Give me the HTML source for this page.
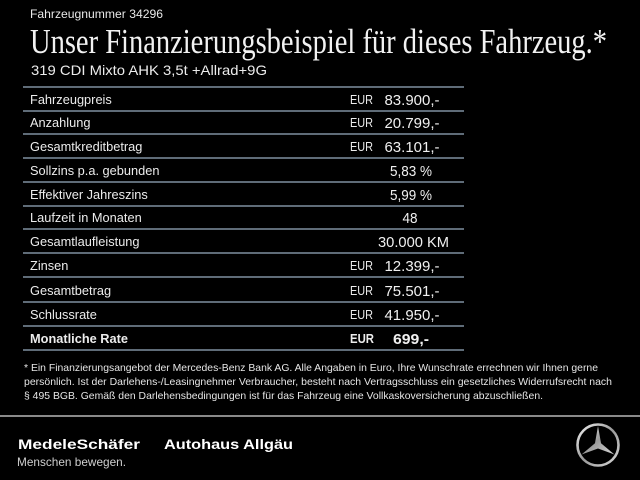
<!DOCTYPE html>
<html>
<head>
<meta charset="utf-8">
<style>
  html,body{margin:0;padding:0;background:#000;}
  svg{display:block;}
  .lbl{font-family:"Liberation Sans",sans-serif;font-size:12.8px;fill:#ececec;}
  .eur{font-family:"Liberation Sans",sans-serif;font-size:12.5px;fill:#ececec;}
  .val{font-family:"Liberation Sans",sans-serif;font-size:15px;fill:#f0f0f0;}
  .b{font-weight:bold;}
  .fn{font-family:"Liberation Sans",sans-serif;font-size:10.5px;fill:#e6e6e6;}
</style>
</head>
<body>
<svg width="640" height="480" viewBox="0 0 640 480" xmlns="http://www.w3.org/2000/svg">
  <defs>
    <linearGradient id="silver" x1="0" y1="0" x2="1" y2="1">
      <stop offset="0" stop-color="#f0f0f0"/>
      <stop offset="0.5" stop-color="#9a9a9a"/>
      <stop offset="1" stop-color="#d8d8d8"/>
    </linearGradient>
  </defs>
  <rect width="640" height="480" fill="#000"/>

  <!-- Header -->
  <text x="30" y="18" font-family="Liberation Sans, sans-serif" font-size="12px" fill="#e8e8e8" textLength="133" lengthAdjust="spacingAndGlyphs">Fahrzeugnummer 34296</text>
  <text x="30" y="53" font-family="Liberation Serif, serif" font-size="35px" fill="#f2f2f2" textLength="577" lengthAdjust="spacingAndGlyphs">Unser Finanzierungsbeispiel für dieses Fahrzeug.*</text>
  <text x="31" y="75" font-family="Liberation Sans, sans-serif" font-size="14px" fill="#ececec" textLength="236" lengthAdjust="spacingAndGlyphs">319 CDI Mixto AHK 3,5t +Allrad+9G</text>

  <!-- Table lines -->
  <g stroke="#7f8fa0" stroke-width="1.5">
    <line x1="23" y1="87" x2="464" y2="87"/>
    <line x1="23" y1="111" x2="464" y2="111"/>
    <line x1="23" y1="134" x2="464" y2="134"/>
    <line x1="23" y1="158" x2="464" y2="158"/>
    <line x1="23" y1="182" x2="464" y2="182"/>
    <line x1="23" y1="206" x2="464" y2="206"/>
    <line x1="23" y1="229" x2="464" y2="229"/>
    <line x1="23" y1="253" x2="464" y2="253"/>
    <line x1="23" y1="277" x2="464" y2="277"/>
    <line x1="23" y1="302" x2="464" y2="302"/>
    <line x1="23" y1="326" x2="464" y2="326"/>
    <line x1="23" y1="350" x2="464" y2="350"/>
  </g>

  <!-- Rows -->
  <text class="lbl" x="30" y="104">Fahrzeugpreis</text>
  <text class="eur" x="350" y="104" textLength="23" lengthAdjust="spacingAndGlyphs">EUR</text>
  <text class="val" x="412" y="105" text-anchor="middle">83.900,-</text>

  <text class="lbl" x="30" y="127">Anzahlung</text>
  <text class="eur" x="350" y="127" textLength="23" lengthAdjust="spacingAndGlyphs">EUR</text>
  <text class="val" x="412" y="128" text-anchor="middle">20.799,-</text>

  <text class="lbl" x="30" y="151">Gesamtkreditbetrag</text>
  <text class="eur" x="350" y="151" textLength="23" lengthAdjust="spacingAndGlyphs">EUR</text>
  <text class="val" x="412" y="152" text-anchor="middle">63.101,-</text>

  <text class="lbl" x="30" y="175">Sollzins p.a. gebunden</text>
  <text class="val" x="411" y="176" text-anchor="middle" textLength="42" lengthAdjust="spacingAndGlyphs">5,83 %</text>

  <text class="lbl" x="30" y="199">Effektiver Jahreszins</text>
  <text class="val" x="411" y="200" text-anchor="middle" textLength="42" lengthAdjust="spacingAndGlyphs">5,99 %</text>

  <text class="lbl" x="30" y="222">Laufzeit in Monaten</text>
  <text class="val" x="410" y="223" text-anchor="middle" textLength="15" lengthAdjust="spacingAndGlyphs">48</text>

  <text class="lbl" x="30" y="246">Gesamtlaufleistung</text>
  <text class="val" x="413.5" y="247" text-anchor="middle" textLength="71" lengthAdjust="spacingAndGlyphs">30.000 KM</text>

  <text class="lbl" x="30" y="270">Zinsen</text>
  <text class="eur" x="350" y="270" textLength="23" lengthAdjust="spacingAndGlyphs">EUR</text>
  <text class="val" x="412" y="271" text-anchor="middle">12.399,-</text>

  <text class="lbl" x="30" y="295">Gesamtbetrag</text>
  <text class="eur" x="350" y="295" textLength="23" lengthAdjust="spacingAndGlyphs">EUR</text>
  <text class="val" x="412" y="296" text-anchor="middle">75.501,-</text>

  <text class="lbl" x="30" y="319">Schlussrate</text>
  <text class="eur" x="350" y="319" textLength="23" lengthAdjust="spacingAndGlyphs">EUR</text>
  <text class="val" x="412" y="320" text-anchor="middle">41.950,-</text>

  <text class="lbl b" x="30" y="343" textLength="98" lengthAdjust="spacingAndGlyphs">Monatliche Rate</text>
  <text class="eur b" x="350" y="343" textLength="24" lengthAdjust="spacingAndGlyphs">EUR</text>
  <text class="val b" x="411" y="344" text-anchor="middle" textLength="36" lengthAdjust="spacingAndGlyphs">699,-</text>

  <!-- Footnote -->
  <text class="fn" x="24" y="371" textLength="574" lengthAdjust="spacingAndGlyphs">* Ein Finanzierungsangebot der Mercedes-Benz Bank AG. Alle Angaben in Euro, Ihre Wunschrate errechnen wir Ihnen gerne</text>
  <text class="fn" x="24" y="385" textLength="588" lengthAdjust="spacingAndGlyphs">persönlich. Ist der Darlehens-/Leasingnehmer Verbraucher, besteht nach Vertragsschluss ein gesetzliches Widerrufsrecht nach</text>
  <text class="fn" x="24" y="399" textLength="519" lengthAdjust="spacingAndGlyphs">§ 495 BGB. Gemäß den Darlehensbedingungen ist für das Fahrzeug eine Vollkaskoversicherung abzuschließen.</text>

  <!-- Footer separator -->
  <rect x="0" y="415" width="640" height="2" fill="#8a8a8a"/>

  <!-- Dealer logos -->
  <text x="18" y="449" font-family="Liberation Sans, sans-serif" font-weight="bold" font-size="14px" fill="#ffffff" textLength="122" lengthAdjust="spacingAndGlyphs">MedeleSchäfer</text>
  <text x="164" y="449" font-family="Liberation Sans, sans-serif" font-weight="bold" font-size="14px" fill="#ffffff" textLength="129" lengthAdjust="spacingAndGlyphs">Autohaus Allgäu</text>
  <text x="17" y="466" font-family="Liberation Sans, sans-serif" font-size="12px" fill="#cfcfcf" textLength="109" lengthAdjust="spacingAndGlyphs">Menschen bewegen.</text>

  <!-- Mercedes star -->
  <circle cx="598" cy="445" r="20.5" fill="none" stroke="url(#silver)" stroke-width="2.6"/>
  <polygon points="598,426 601.03,443.25 614.45,454.5 598,448.5 581.55,454.5 594.97,443.25" fill="url(#silver)"/>
</svg>
</body>
</html>
